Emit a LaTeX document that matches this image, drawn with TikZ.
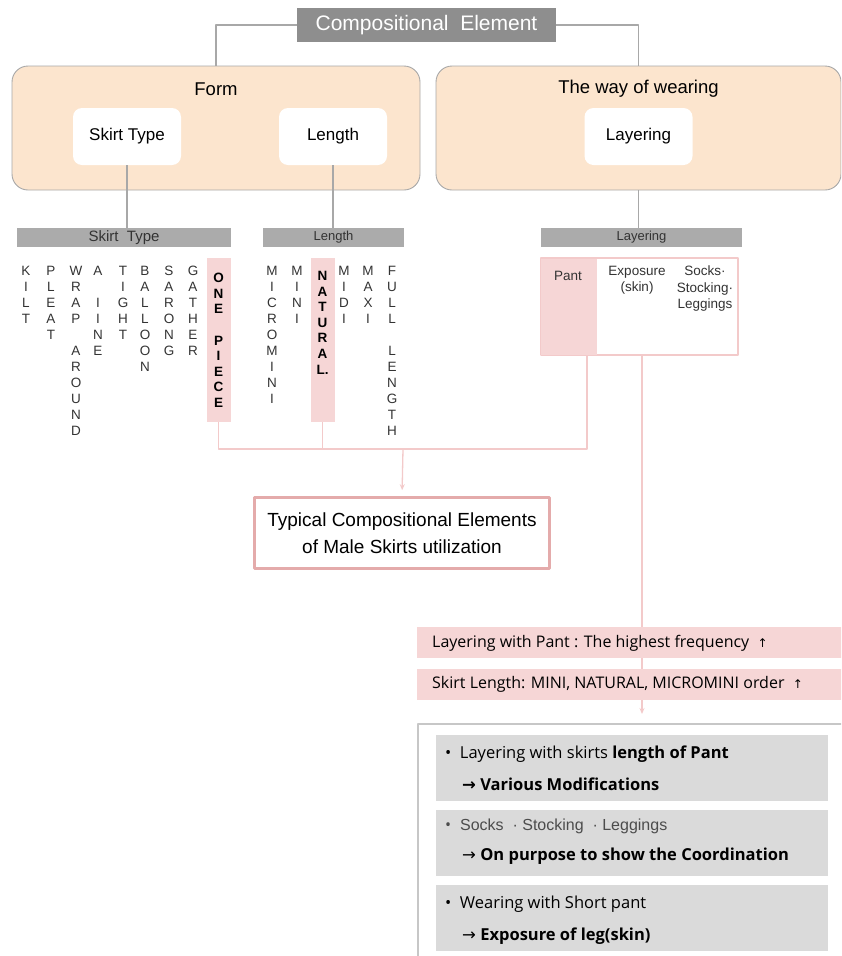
\documentclass[tikz,border=0pt]{standalone}
\usepackage{fontspec}
\setmainfont{Liberation Sans}
\newfontfamily\gothic{Open Sans}
\newfontfamily\symb{DejaVu Sans}
\usetikzlibrary{arrows.meta}
\definecolor{peach}{HTML}{FCE5CE}
\definecolor{headgray}{HTML}{8E8E8E}
\definecolor{bargray}{HTML}{ABABAB}
\definecolor{linegray}{HTML}{A8A8A8}
\definecolor{pinkfill}{HTML}{F6D6D6}
\definecolor{pinkline}{HTML}{F3CACA}
\definecolor{pinkedge}{HTML}{E4ABAB}
\definecolor{boxgray}{HTML}{DADADA}
\begin{document}
\begin{tikzpicture}[x=1pt,y=-1pt,line join=round,
	grayline/.style={draw=linegray,line width=1.1pt},
	pinkcon/.style={draw=pinkline,line width=1.3pt},
	group/.style={draw=linegray,fill=peach,rounded corners=16pt,line width=0.9pt,minimum height=124pt},
	inbox/.style={fill=white,rounded corners=9pt,minimum width=108pt,minimum height=57pt,font=\fontsize{17}{20}\selectfont},
	catbar/.style={fill=bargray,minimum height=19pt,inner sep=0pt,text=black!80},
	strip/.style={fill=pinkfill,minimum width=24pt,minimum height=164pt,inner sep=0pt},
	letters/.style={anchor=north,align=center,inner sep=0pt,font=\fontsize{13.5}{16}\selectfont,text=black!80},
	boldletters/.style={letters,font=\fontsize{13.5}{15.6}\selectfont\bfseries,text=black},
	resbar/.style={fill=pinkfill,anchor=west,minimum width=440pt,minimum height=31pt,inner sep=0pt},
	restext/.style={anchor=west,inner sep=0pt,font=\gothic\fontsize{16}{19}\selectfont},
	note/.style={fill=boxgray,anchor=north west,minimum width=392pt,minimum height=66pt,inner sep=0pt},
	notetext/.style={anchor=west,inner sep=0pt,font=\gothic\fontsize{16.5}{19}\selectfont}]
\useasboundingbox (0,0) rectangle (841,956);
\clip (0,0) rectangle (841,956);

\node[fill=headgray,text=white,minimum width=259pt,minimum height=34pt,font=\fontsize{21}{24}\selectfont] (head) at (426.5,25) {Compositional\ \ Element};
\node[group,minimum width=408pt] (form) at (216,128) {};
\node[group,minimum width=405pt] (wear) at (638.5,128) {};
\node[font=\fontsize{18.5}{22}\selectfont] (formlbl) at (216,89) {Form};
\node[font=\fontsize{18.5}{22}\selectfont] (wearlbl) at (638.5,89) {The way of wearing};
\node[inbox] (sktype) at (127,136.5) {Skirt Type};
\node[inbox] (length) at (333,136.5) {Length};
\node[inbox] (layering) at (638.5,136.5) {Layering};
\draw[grayline] (head.west) -| (form.north);
\draw[grayline] (head.east) -| (wear.north);

\node[catbar,minimum width=214pt,font=\fontsize{15}{17}\selectfont] (sktbar) at (124,237.5) {Skirt\ \ Type};
\node[catbar,minimum width=141pt,font=\fontsize{13}{15}\selectfont] (lenbar) at (333.5,237.5) {Length};
\node[catbar,minimum width=201pt,font=\fontsize{13}{15}\selectfont] (laybar) at (641.5,237.5) {Layering};
\draw[grayline] (sktype.south) -- (sktype.south |- sktbar.north);
\draw[grayline] (length.south) -- (length.south |- lenbar.north);
\draw[grayline] (wear.south) -- (wear.south |- laybar.north);

\node[strip] (onepiece) at (218.5,340) {};
\node[strip] (natural) at (322.5,340) {};
\node[letters] (kilt) at (26,266) {K\\I\\L\\T};
\node[letters] (pleat) at (51,266) {P\\L\\E\\A\\T};
\node[letters] (wrap) at (76,266) {W\\R\\A\\P\\~\\A\\R\\O\\U\\N\\D};
\node[letters] (aline) at (98,266) {A\\~\\I\\I\\N\\E};
\node[letters] (tight) at (123,266) {T\\I\\G\\H\\T};
\node[letters] (balloon) at (145,266) {B\\A\\L\\L\\O\\O\\N};
\node[letters] (sarong) at (169,266) {S\\A\\R\\O\\N\\G};
\node[letters] (gather) at (193,266) {G\\A\\T\\H\\E\\R};
\node[boldletters] (onepiecetxt) at (218.5,273) {O\\N\\E\\~\\P\\I\\E\\C\\E};
\node[letters] (micromini) at (272,266) {M\\I\\C\\R\\O\\M\\I\\N\\I};
\node[letters] (mini) at (297,266) {M\\I\\N\\I};
\node[boldletters] (naturaltxt) at (322.5,271) {N\\A\\T\\U\\R\\A\\L.};
\node[letters] (midi) at (344,266) {M\\I\\D\\I};
\node[letters] (maxi) at (368,266) {M\\A\\X\\I};
\node[letters] (full) at (392,266) {F\\U\\L\\L\\~\\L\\E\\N\\G\\T\\H};

\node[draw=pinkline,line width=1.3pt,fill=white,minimum width=197pt,minimum height=97pt] (layertab) at (639.5,306.5) {};
\node[fill=pinkfill,minimum width=56pt,minimum height=96pt,inner sep=0pt] (pant) at (569,306.5) {};
\node[font=\fontsize{13.5}{16}\selectfont,text=black!80] (panttxt) at (568,276) {Pant};
\node[letters,font=\fontsize{13.5}{16.5}\selectfont] (expo) at (637,266) {Exposure\\(skin)};
\node[letters,font=\fontsize{13.5}{16.5}\selectfont] (socks) at (705,266) {Socks·\\Stocking·\\Leggings};

\coordinate (bus) at (403,449);
\coordinate (pantdrop) at (587,355);
\coordinate (expodrop) at (642,355);
\node[draw=pinkedge,line width=2.6pt,fill=white,minimum width=295pt,minimum height=71pt,align=center,font=\fontsize{19}{27}\selectfont] (typical) at (402,533) {Typical Compositional Elements\\of Male Skirts utilization};
\draw[pinkcon] (onepiece.south) |- (bus) -| (pantdrop);
\draw[pinkcon] (natural.south) -- (natural.south |- bus);
\draw[pinkcon,-{Stealth[length=6pt,width=5pt]},shorten >=6pt] (bus) -- (typical.north);

\node[draw=black!22,line width=1.6pt,fill=white,anchor=north west,minimum width=440pt,minimum height=250pt] (panel) at (417,723) {};
\draw[pinkcon,-{Stealth[length=6pt,width=5pt]},shorten >=9pt] (expodrop) -- (expodrop |- panel.north);
\node[resbar] (bar1) at (417,642.5) {};
\node[resbar] (bar2) at (417,684) {};
\node[restext] (bar1txt) at (432,643) {Layering with Pant : The highest frequency \ {\symb\fontsize{12}{14}\selectfont ↑}};
\node[restext] (bar2txt) at (432,684) {Skirt Length: MINI, NATURAL, MICROMINI order \ {\symb\fontsize{12}{14}\selectfont ↑}};

\node[note] (note1) at (436,735) {};
\node[note] (note2) at (436,810) {};
\node[note] (note3) at (436,885) {};
\node[notetext] (n1a) at (445,754) {•\ \ Layering with skirts \textbf{length of Pant}};
\node[notetext] (n1b) at (462,784) {{\symb\bfseries →}\ \textbf{Various Modifications}};
\node[notetext,font=\fontsize{16}{19}\selectfont,text=black!70] (n2a) at (445,826) {{\gothic •}\ \ Socks\ \ · Stocking\ \ · Leggings};
\node[notetext] (n2b) at (462,856) {{\symb →}\ \textbf{On purpose to show the Coordination}};
\node[notetext] (n3a) at (445,904) {•\ \ Wearing with Short pant};
\node[notetext] (n3b) at (462,936) {{\symb →}\ \textbf{Exposure of leg(skin)}};
\end{tikzpicture}
\end{document}
